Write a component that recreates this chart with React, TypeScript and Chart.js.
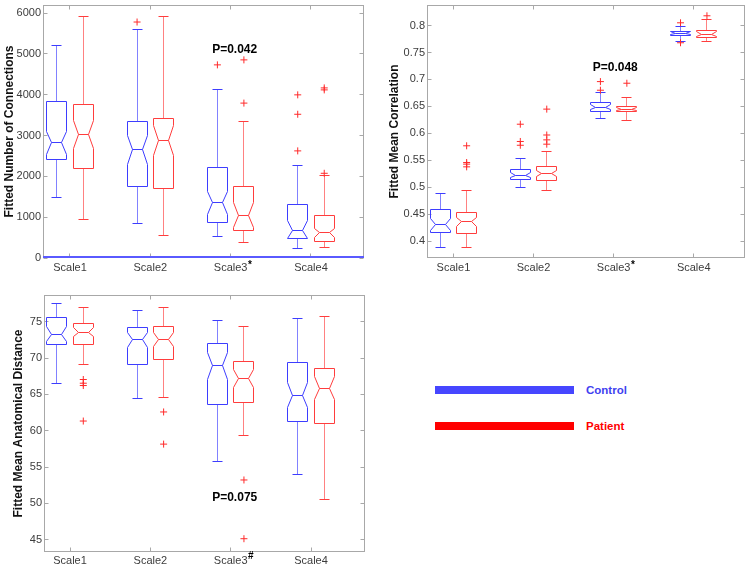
import React, { useEffect, useRef } from 'react';
import { Chart, registerables } from 'chart.js';

Chart.register(...registerables);

// ---------- data ----------
const categories = ['Scale1', 'Scale2', 'Scale3', 'Scale4'];

// each row: [whiskerLow, q1, notchLow, median, notchHigh, q3, whiskerHigh]
const connControl = [
  [1478, 2415, 2528, 2819, 3110, 3837, 5210],
  [856, 1753, 2302, 2649, 2996, 3336, 5606],
  [517, 880, 1074, 1349, 1624, 2221, 4128],
  [226, 477, 490, 670, 913, 1309, 2270],
];
const connPatient = [
  [937, 2189, 2690, 3029, 3376, 3756, 5920],
  [541, 1696, 2512, 2868, 3240, 3417, 5920],
  [372, 670, 743, 1050, 1357, 1753, 3336],
  [250, 412, 493, 614, 735, 1050, 2011],
];
const connControlOut = [[], [5783], [4733], [2625, 3522, 3998]];
const connPatientOut = [[], [], [3796, 4855], [2076, 4120, 4168]];
const connTicks = [0, 1000, 2000, 3000, 4000, 5000, 6000];

const corrControl = [
  [0.389, 0.4165, 0.42, 0.431, 0.443, 0.458, 0.4878],
  [0.4988, 0.515, 0.5175, 0.522, 0.527, 0.5335, 0.5537],
  [0.6267, 0.6414, 0.644, 0.6487, 0.6535, 0.657, 0.675],
  [0.7705, 0.7817, 0.7825, 0.7853, 0.788, 0.7897, 0.799],
];
const corrPatient = [
  [0.389, 0.414, 0.428, 0.436, 0.444, 0.453, 0.495],
  [0.494, 0.5134, 0.5195, 0.5256, 0.5317, 0.539, 0.566],
  [0.623, 0.64, 0.6425, 0.645, 0.6475, 0.6505, 0.6658],
  [0.7696, 0.777, 0.7805, 0.7842, 0.788, 0.7915, 0.811],
];
const corrControlOut = [[], [0.578, 0.585, 0.617], [0.68, 0.696], [0.768, 0.805]];
const corrPatientOut = [[0.538, 0.543, 0.546, 0.577], [0.58, 0.588, 0.597, 0.645], [0.693], [0.818]];
const corrTicks = [0.4, 0.45, 0.5, 0.55, 0.6, 0.65, 0.7, 0.75, 0.8];

const distControl = [
  [66.46, 71.86, 72.3, 73.3, 74.3, 75.65, 77.54],
  [64.39, 69.09, 71.4, 72.55, 73.6, 74.17, 76.6],
  [55.82, 63.64, 67.05, 68.96, 70.8, 72.05, 75.23],
  [53.99, 61.27, 63.18, 64.86, 66.6, 69.46, 75.46],
];
const distPatient = [
  [69.19, 71.9, 72.97, 73.6, 74.17, 74.72, 76.98],
  [64.52, 69.79, 71.54, 72.55, 73.5, 74.3, 76.94],
  [59.31, 63.95, 65.9, 67.18, 68.4, 69.54, 74.41],
  [50.5, 61.0, 64.32, 65.82, 67.5, 68.64, 75.68],
];
const distControlOut = [[], [], [], []];
const distPatientOut = [[61.34, 66.23, 66.55, 67.06], [58.16, 62.59], [45.13, 53.22], []];
const distTicks = [45, 50, 55, 60, 65, 70, 75];

const yTitles = ['Fitted Number of Connections', 'Fitted Mean Correlation', 'Fitted Mean Anatomical Distance'];
const pLabels = ['P=0.042', 'P=0.048', 'P=0.075'];
const pLabelX = [3.05, 3.02, 3.05];
const pLabelY = [5110, 0.721, 50.8];
const superscripts = ['*', '*', '#'];
const legendLabels = ['Control', 'Patient'];

// ---------- styles ----------
const FONT = "'Liberation Sans', Arial, Helvetica, sans-serif";
const BLUE = '#3d3dff';
const RED = '#ff3d3d';
const OUT_COLOR = '#ff2a2a';
const OFFSET = 0.165;
const HALF = 0.12;

function crisp(v: number) {
  return Math.round(v - 0.5) + 0.5;
}

function drawBox(ctx: CanvasRenderingContext2D, xs: any, ys: any, xc: number, s: number[], color: string) {
  const cx = crisp(xs.getPixelForValue(xc));
  const hw = Math.round(Math.abs(xs.getPixelForValue(HALF) - xs.getPixelForValue(0)));
  const [wl, q1, nl, md, nh, q3, wh] = s.map((v) => crisp(ys.getPixelForValue(v)));
  ctx.strokeStyle = color;
  ctx.lineWidth = 1;
  ctx.globalAlpha = 0.65;
  ctx.beginPath();
  ctx.moveTo(cx, q3);
  ctx.lineTo(cx, wh);
  ctx.moveTo(cx, q1);
  ctx.lineTo(cx, wl);
  ctx.stroke();
  ctx.globalAlpha = 1;
  const ch = Math.round(hw / 2);
  ctx.beginPath();
  ctx.moveTo(cx - ch, wh);
  ctx.lineTo(cx + ch, wh);
  ctx.moveTo(cx - ch, wl);
  ctx.lineTo(cx + ch, wl);
  ctx.stroke();
  ctx.beginPath();
  ctx.moveTo(cx - hw, q1);
  ctx.lineTo(cx - hw, nl);
  ctx.lineTo(cx - ch, md);
  ctx.lineTo(cx - hw, nh);
  ctx.lineTo(cx - hw, q3);
  ctx.lineTo(cx + hw, q3);
  ctx.lineTo(cx + hw, nh);
  ctx.lineTo(cx + ch, md);
  ctx.lineTo(cx + hw, nl);
  ctx.lineTo(cx + hw, q1);
  ctx.closePath();
  ctx.stroke();
  ctx.beginPath();
  ctx.moveTo(cx - ch, md);
  ctx.lineTo(cx + ch, md);
  ctx.stroke();
}

type PanelSpec = {
  idx: number;
  control: number[][];
  patient: number[][];
  controlOut: number[][];
  patientOut: number[][];
  yTicks: number[];
  yMin: number;
  yMax: number;
  xMin: number;
  xMax: number;
  fmt: (v: number) => string;
  zeroLine: boolean;
  left: number;
  top: number;
  width: number;
  height: number;
  axisW: number;
  axisH: number;
  padTop: number;
  padRight: number;
  titlePad: number;
  xTickPad: number;
  supTop: number;
};

function makePlugin(p: PanelSpec) {
  return {
    id: 'boxes' + p.idx,
    beforeDatasetsDraw(chart: any) {
      const { ctx, chartArea: a } = chart;
      const x = chart.scales.x;
      const y = chart.scales.y;
      ctx.save();
      ctx.strokeStyle = '#a8a8a8';
      ctx.lineWidth = 1;
      const L = Math.round(a.left) + 0.5;
      const R = Math.round(a.right) - 0.5;
      const T = Math.round(a.top) + 0.5;
      const B = Math.round(a.bottom) - 0.5;
      ctx.strokeRect(L, T, R - L, B - T);
      ctx.beginPath();
      for (const t of p.yTicks) {
        const py = crisp(y.getPixelForValue(t));
        ctx.moveTo(L, py);
        ctx.lineTo(L + 4, py);
        ctx.moveTo(R, py);
        ctx.lineTo(R - 4, py);
      }
      for (let i = 0; i < categories.length; i++) {
        const px = crisp(x.getPixelForValue(i + 1));
        ctx.moveTo(px, T);
        ctx.lineTo(px, T + 4);
        ctx.moveTo(px, B);
        ctx.lineTo(px, B - 4);
      }
      ctx.stroke();
      if (p.zeroLine) {
        const py = Math.round(y.getPixelForValue(0)) - 1;
        ctx.strokeStyle = '#5a5aff';
        ctx.lineWidth = 2;
        ctx.beginPath();
        ctx.moveTo(a.left, py);
        ctx.lineTo(a.right, py);
        ctx.stroke();
      }
      p.control.forEach((s, i) => drawBox(ctx, x, y, i + 1 - OFFSET, s, BLUE));
      p.patient.forEach((s, i) => drawBox(ctx, x, y, i + 1 + OFFSET, s, RED));
      ctx.restore();
    },
    afterDraw(chart: any) {
      const { ctx } = chart;
      const x = chart.scales.x;
      const y = chart.scales.y;
      ctx.save();
      ctx.font = `bold 12px ${FONT}`;
      ctx.fillStyle = '#000';
      ctx.textAlign = 'center';
      ctx.textBaseline = 'middle';
      ctx.fillText(pLabels[p.idx], x.getPixelForValue(pLabelX[p.idx]), y.getPixelForValue(pLabelY[p.idx]));
      ctx.font = `11px ${FONT}`;
      const w = ctx.measureText(categories[2]).width;
      ctx.font = `bold 10px ${FONT}`;
      ctx.textAlign = 'left';
      ctx.textBaseline = 'top';
      ctx.fillStyle = '#000';
      ctx.fillText(superscripts[p.idx], x.getPixelForValue(3) + w / 2 + 0.5, x.top + p.supTop);
      ctx.restore();
    },
  };
}

function makeConfig(p: PanelSpec): any {
  const tickFont = { family: FONT, size: 11 };
  const outData = (arr: number[][], off: number) =>
    arr.flatMap((vals, i) => vals.map((v) => ({ x: i + 1 + off, y: v })));
  return {
    type: 'scatter',
    data: {
      datasets: [
        {
          label: legendLabels[0],
          data: outData(p.controlOut, -OFFSET),
          pointStyle: 'cross',
          pointRadius: 3.5,
          borderColor: OUT_COLOR,
          backgroundColor: OUT_COLOR,
          borderWidth: 1,
        },
        {
          label: legendLabels[1],
          data: outData(p.patientOut, OFFSET),
          pointStyle: 'cross',
          pointRadius: 3.5,
          borderColor: OUT_COLOR,
          backgroundColor: OUT_COLOR,
          borderWidth: 1,
        },
      ],
    },
    options: {
      animation: false,
      responsive: false,
      maintainAspectRatio: false,
      events: [],
      layout: { padding: { top: p.padTop, right: p.padRight, left: 0, bottom: 0 } },
      plugins: { legend: { display: false }, tooltip: { enabled: false } },
      scales: {
        x: {
          type: 'linear',
          min: p.xMin,
          max: p.xMax,
          grid: { display: false, drawTicks: false },
          border: { display: false },
          afterBuildTicks: (s: any) => {
            s.ticks = categories.map((_, i) => ({ value: i + 1 }));
          },
          afterFit: (s: any) => {
            s.height = p.axisH;
            s.paddingLeft = 0;
            s.paddingRight = 0;
          },
          ticks: {
            autoSkip: false,
            maxRotation: 0,
            minRotation: 0,
            padding: p.xTickPad,
            color: '#3c3c3c',
            font: tickFont,
            callback: (v: number) => categories[Math.round(v) - 1] ?? '',
          },
        },
        y: {
          type: 'linear',
          min: p.yMin,
          max: p.yMax,
          grid: { display: false, drawTicks: false },
          border: { display: false },
          afterBuildTicks: (s: any) => {
            s.ticks = p.yTicks.map((v) => ({ value: v }));
          },
          afterFit: (s: any) => {
            s.width = p.axisW;
            s.paddingTop = 0;
            s.paddingBottom = 0;
          },
          ticks: {
            padding: 2,
            color: '#3c3c3c',
            font: tickFont,
            callback: (v: number) => p.fmt(v),
          },
          title: {
            display: true,
            text: yTitles[p.idx],
            color: '#111',
            font: { family: FONT, size: 12, weight: 'bold' },
            padding: { top: p.titlePad, bottom: 0 },
          },
        },
      },
    },
    plugins: [makePlugin(p)],
  };
}

function Panel({ spec }: { spec: PanelSpec }) {
  const ref = useRef<HTMLCanvasElement | null>(null);
  useEffect(() => {
    if (!ref.current) return;
    const chart = new Chart(ref.current, makeConfig(spec));
    return () => chart.destroy();
  }, [spec]);
  return (
    <canvas
      ref={ref}
      width={spec.width}
      height={spec.height}
      style={{ position: 'absolute', left: spec.left, top: spec.top, width: spec.width, height: spec.height }}
    />
  );
}

const panels: PanelSpec[] = [
  {
    idx: 0,
    control: connControl,
    patient: connPatient,
    controlOut: connControlOut,
    patientOut: connPatientOut,
    yTicks: connTicks,
    yMin: 0,
    yMax: 6200,
    xMin: 0.664,
    xMax: 4.66,
    fmt: (v) => String(v),
    zeroLine: true,
    left: 0,
    top: 0,
    width: 375,
    height: 290,
    axisW: 43,
    axisH: 32,
    padTop: 2,
    padRight: 11,
    titlePad: 2,
    xTickPad: 3,
    supTop: 2,
  },
  {
    idx: 1,
    control: corrControl,
    patient: corrPatient,
    controlOut: corrControlOut,
    patientOut: corrPatientOut,
    yTicks: corrTicks,
    yMin: 0.369,
    yMax: 0.838,
    xMin: 0.67,
    xMax: 4.64,
    fmt: (v) => String(Number(v.toFixed(2))),
    zeroLine: false,
    left: 385,
    top: 0,
    width: 365,
    height: 290,
    axisW: 42,
    axisH: 32,
    padTop: 2,
    padRight: 3,
    titlePad: 2,
    xTickPad: 3,
    supTop: 2,
  },
  {
    idx: 2,
    control: distControl,
    patient: distPatient,
    controlOut: distControlOut,
    patientOut: distPatientOut,
    yTicks: distTicks,
    yMin: 43.3,
    yMax: 78.7,
    xMin: 0.676,
    xMax: 4.672,
    fmt: (v) => String(v),
    zeroLine: false,
    left: 0,
    top: 285,
    width: 375,
    height: 282,
    axisW: 44,
    axisH: 15,
    padTop: 10,
    padRight: 10,
    titlePad: 11,
    xTickPad: 2,
    supTop: -1,
  },
];

function Legend() {
  const items = [
    { label: legendLabels[0], bar: '#4646ff', text: '#4040f0', top: 386 },
    { label: legendLabels[1], bar: '#ff0000', text: '#ff0000', top: 422 },
  ];
  return (
    <>
      {items.map((it) => (
        <React.Fragment key={it.label}>
          <div style={{ position: 'absolute', left: 435, top: it.top, width: 139, height: 8, background: it.bar }} />
          <div
            style={{
              position: 'absolute',
              left: 586,
              top: it.top - 3,
              height: 14,
              lineHeight: '14px',
              fontFamily: FONT,
              fontWeight: 'bold',
              fontSize: 11.5,
              color: it.text,
            }}
          >
            {it.label}
          </div>
        </React.Fragment>
      ))}
    </>
  );
}

export default function App() {
  return (
    <div style={{ position: 'fixed', left: 0, top: 0, width: 750, height: 567, background: '#fff', overflow: 'hidden' }}>
      {panels.map((p) => (
        <Panel key={p.idx} spec={p} />
      ))}
      <Legend />
    </div>
  );
}
